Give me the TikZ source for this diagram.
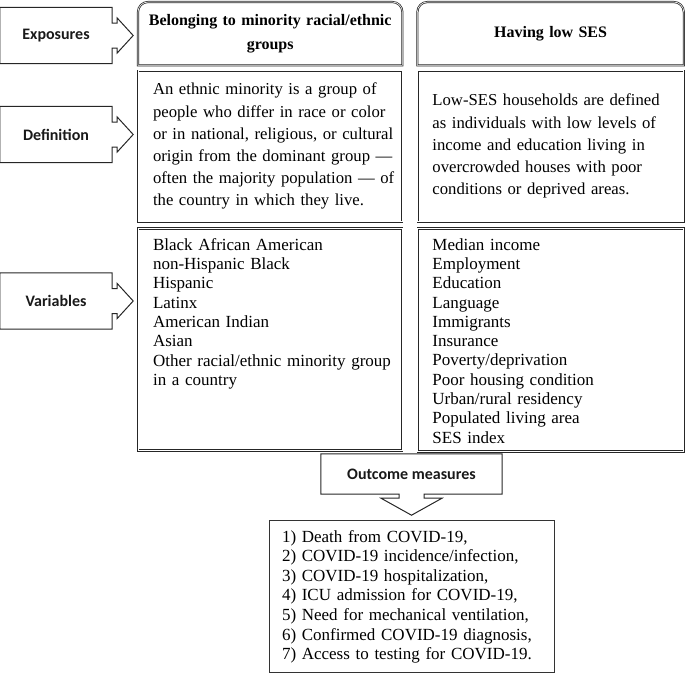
\documentclass[tikz,border=0pt]{standalone}
\usepackage{fontspec}
\setmainfont{Liberation Serif}
\newfontfamily\tagfont{Carlito}
\usetikzlibrary{positioning,calc}

% outline of a label box with an arrow pointing right
\newcommand{\sidetag}[1]{%
  \draw[tagline] (#1.north west) -- (#1.north east) -- ($(#1.east)+(0,-12.5)$)
    -- ++(5,0) -- ++(0,-5) -- ($(#1.east)+(21,0)$) -- ($(#1.east)+(5,17.5)$)
    -- ++(0,-5) -- ++(-5,0) -- (#1.south east) -- (#1.south west) -- cycle;}

\begin{document}
\begin{tikzpicture}[x=1pt, y=-1pt,
    tagline/.style={draw=black!85, line width=1pt},
    tag/.style={minimum width=112, minimum height=56, text=black!90,
      font=\tagfont\bfseries\fontsize{16}{18}\selectfont},
    dbl/.style={draw=black!85, double=white, double distance=0.6pt, line width=0.75pt},
    cell/.style={dbl, minimum width=#1},
    hdr/.style={text width=#1-4, inner xsep=1, align=center, minimum width=#1,
      minimum height=63, font=\bfseries\fontsize{16}{24}\selectfont},
    deftext/.style={text width=249, align=left, inner sep=0,
      font=\fontsize{16.7}{22.2}\selectfont},
    listtext/.style={text width=240, align=left, inner sep=0,
      font=\fontsize{17}{19.3}\selectfont},
    node distance=5pt]
  \useasboundingbox (0,0) rectangle (685,675);

  % exposures
  \node[hdr=264, anchor=north west] (hdrL) at (138,2) {Belonging to minority racial/ethnic\\groups};
  \node[hdr=266, right=15pt of hdrL] (hdrR) {Having low SES};
  \draw[dbl] (hdrL.south west) [rounded corners=10pt] -- (hdrL.north west) -- (hdrL.north east)
    [sharp corners] -- (hdrL.south east) -- cycle;
  \draw[dbl] (hdrR.south west) [rounded corners=10pt] -- (hdrR.north west) -- (hdrR.north east)
    [sharp corners] -- (hdrR.south east) -- cycle;

  % definitions
  \node[cell=264, minimum height=151, below=5pt of hdrL] (defL) {};
  \node[cell=266, minimum height=151, below=5pt of hdrR] (defR) {};
  \node[deftext, right=15pt of defL.west] (defLtxt) {An ethnic minority is a group of\\
    people who differ in race or color\\or in national, religious, or cultural\\
    origin from the dominant group ---\\often the majority population --- of\\
    the country in which they live.};
  \node[deftext, right=15pt of defR.west] (defRtxt) {Low-SES households are defined\\
    as individuals with low levels of\\income and education living in\\
    overcrowded houses with poor\\conditions or deprived areas.};

  % variables
  \node[cell=264, minimum height=222, below=6pt of defL] (varL) {};
  \node[cell=266, minimum height=223, below=6pt of defR] (varR) {};
  \node[listtext, below right=10pt and 15pt of varL.north west] (varLtxt) {Black African American\\
    non-Hispanic Black\\Hispanic\\Latinx\\American Indian\\Asian\\
    Other racial/ethnic minority group\\in a country};
  \node[listtext, below right=10pt and 15pt of varR.north west] (varRtxt) {Median income\\
    Employment\\Education\\Language\\Immigrants\\Insurance\\Poverty/deprivation\\
    Poor housing condition\\Urban/rural residency\\Populated living area\\SES index};

  % side labels
  \node[tag] (expo) at (56,35.5) {Exposures};
  \node[tag] (defn) at (56,134.5) {Definition};
  \node[tag] (vars) at (56,301) {Variables};
  \sidetag{expo}
  \sidetag{defn}
  \sidetag{vars}

  % outcomes
  \node[tag, minimum width=181, minimum height=40] (outc) at (411.5,474) {Outcome measures};
  \coordinate (octip) at ($(outc.south)+(0,21)$);
  \draw[tagline] (outc.north west) -- (outc.north east) -- (outc.south east)
    -- ($(outc.south)+(12.5,0)$) -- ++(0,4) -- ++(18,0) -- (octip)
    -- ($(outc.south)+(-30.5,4)$) -- ++(18,0) -- ++(0,-4) -- (outc.south west) -- cycle;
  \node[draw=black!80, line width=1pt, minimum width=285, minimum height=152,
    text width=259, inner xsep=13, align=left, below=5pt of octip,
    font=\fontsize{17}{19.6}\selectfont] (outlist) {1) Death from COVID-19,\\
    2) COVID-19 incidence/infection,\\3) COVID-19 hospitalization,\\
    4) ICU admission for COVID-19,\\5) Need for mechanical ventilation,\\
    6) Confirmed COVID-19 diagnosis,\\7) Access to testing for COVID-19.};
\end{tikzpicture}
\end{document}
